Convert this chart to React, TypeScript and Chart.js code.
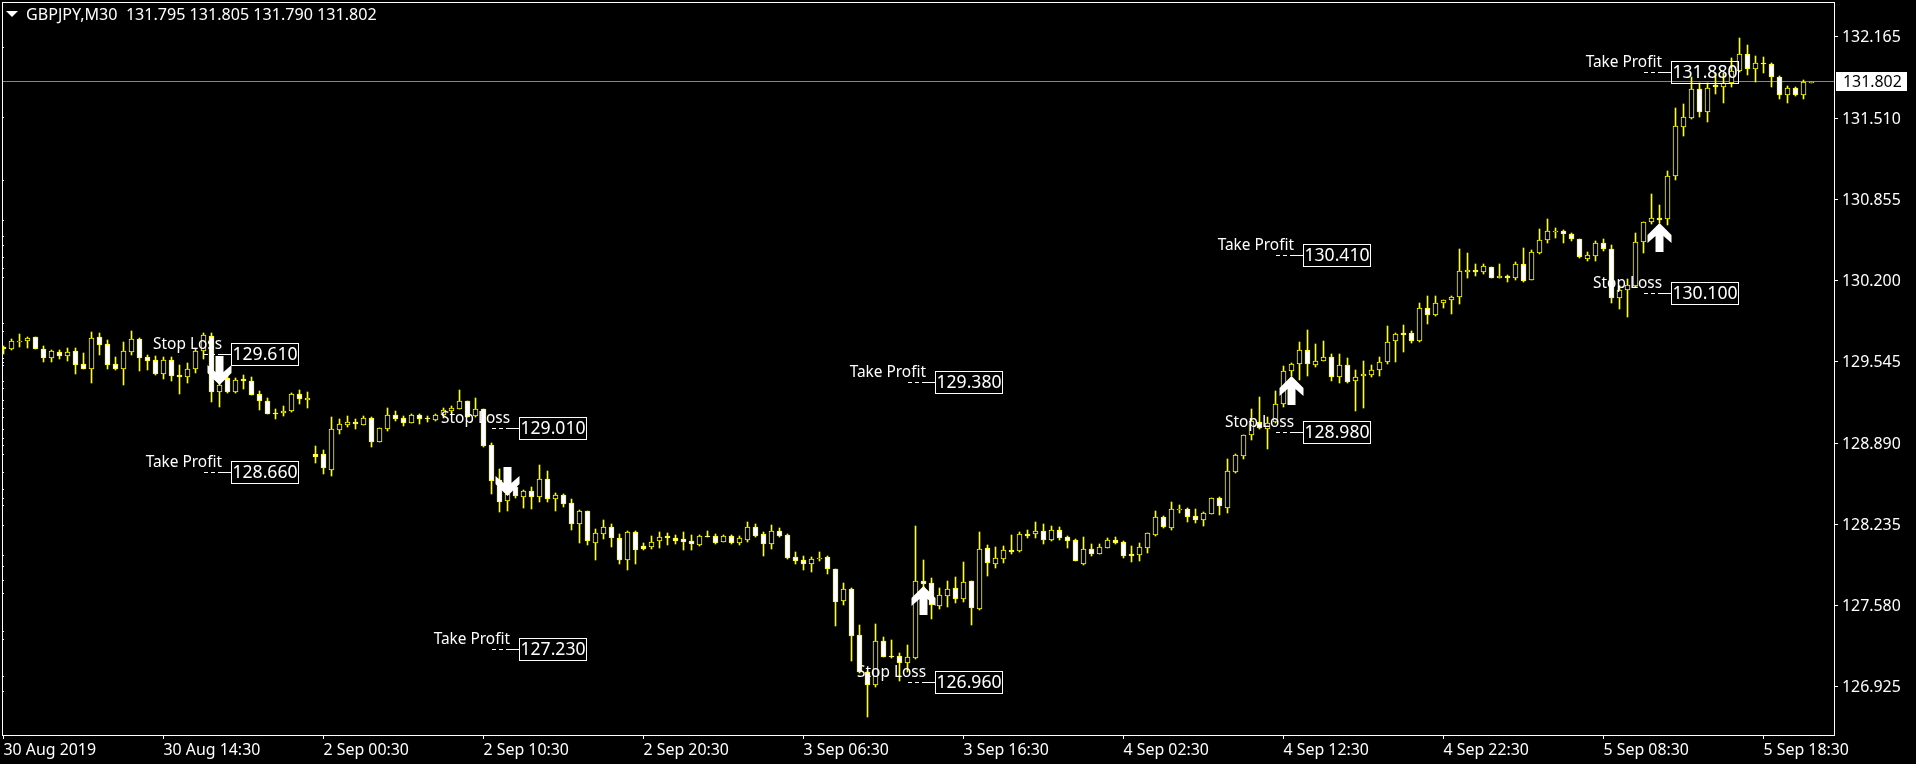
import React, { useEffect, useRef } from "react";
import { Chart, registerables } from "chart.js";

Chart.register(...registerables);

const opens = [
  129.667,129.650,129.702,129.710,129.742,129.650,129.578,129.621,129.594,129.630,
  129.525,129.489,129.742,129.686,129.525,129.489,129.626,129.726,129.581,129.559,
  129.446,129.559,129.436,129.425,129.484,129.630,129.753,129.304,129.412,129.304,
  129.403,129.388,129.283,129.227,129.134,129.132,129.151,129.283,129.237,128.799,
  128.799,128.675,128.998,129.038,129.057,129.038,129.089,128.901,129.006,129.114,
  129.089,129.054,129.114,129.092,129.078,129.114,129.151,129.167,129.227,129.110,
  129.162,128.872,128.592,128.425,128.538,128.458,128.501,128.458,128.598,128.441,
  128.469,128.404,128.239,128.343,128.087,128.160,128.211,128.122,127.950,128.171,
  128.058,128.055,128.103,128.141,128.127,128.114,128.098,128.068,128.138,128.138,
  128.095,128.138,128.087,128.111,128.211,128.155,128.079,128.179,128.147,127.969,
  127.945,127.913,127.953,127.969,127.872,127.618,127.716,127.340,127.044,126.941,
  127.291,127.170,127.170,127.119,127.159,127.775,127.759,127.578,127.659,127.719,
  127.634,127.775,127.554,128.042,127.918,127.958,128.026,128.022,128.155,128.155,
  128.179,128.111,128.187,128.130,128.106,127.918,128.034,127.998,128.047,128.106,
  128.090,127.993,127.990,128.047,128.151,128.291,128.207,128.356,128.356,128.299,
  128.272,128.321,128.445,128.369,128.659,128.788,128.952,129.057,129.001,129.057,
  129.203,129.469,129.525,129.642,129.519,129.554,129.586,129.420,129.522,129.388,
  129.428,129.441,129.481,129.546,129.715,129.775,129.775,129.715,129.977,129.925,
  130.017,130.041,130.066,130.267,130.283,130.272,130.308,130.219,130.235,130.219,
  130.332,130.203,130.425,130.525,130.595,130.598,130.574,130.533,130.378,130.401,
  130.501,130.453,130.057,130.122,130.159,130.509,130.670,130.702,130.694,131.041,
  131.437,131.514,131.743,131.557,131.775,131.759,131.791,131.888,132.025,131.904,
  131.953,131.945,131.840,131.695,131.751,131.695,131.795,
];

const closes = [
  129.646,129.710,129.715,129.739,129.650,129.578,129.630,129.594,129.626,129.522,
  129.489,129.734,129.683,129.522,129.489,129.630,129.726,129.578,129.554,129.446,
  129.559,129.433,129.425,129.484,129.630,129.759,129.304,129.358,129.304,129.395,
  129.392,129.280,129.227,129.127,129.127,129.151,129.283,129.243,129.250,128.780,
  128.691,129.000,129.041,129.057,129.046,129.089,128.901,129.009,129.114,129.086,
  129.054,129.114,129.081,129.081,129.114,129.154,129.170,129.227,129.102,129.162,
  128.869,128.586,128.417,128.477,128.463,128.501,128.458,128.598,128.441,128.469,
  128.399,128.239,128.343,128.098,128.163,128.211,128.127,127.950,128.171,128.030,
  128.038,128.095,128.135,128.127,128.103,128.095,128.079,128.138,128.135,128.087,
  128.138,128.087,128.122,128.211,128.143,128.079,128.179,128.143,127.966,127.942,
  127.913,127.953,127.966,127.872,127.610,127.716,127.336,127.046,126.941,127.291,
  127.167,127.165,127.119,127.162,127.775,127.755,127.586,127.662,127.710,127.634,
  127.767,127.562,128.034,127.926,127.961,128.026,128.014,128.155,128.141,128.179,
  128.111,128.187,128.127,128.103,127.942,128.034,127.998,128.050,128.106,128.087,
  127.982,127.982,128.050,128.163,128.291,128.215,128.356,128.358,128.296,128.272,
  128.324,128.445,128.380,128.662,128.791,128.952,129.065,129.009,129.049,129.203,
  129.469,129.527,129.642,129.530,129.554,129.586,129.420,129.522,129.385,129.425,
  129.449,129.481,129.546,129.707,129.767,129.764,129.715,129.977,129.925,130.017,
  130.046,130.066,130.275,130.283,130.267,130.316,130.219,130.235,130.219,130.332,
  130.194,130.429,130.525,130.598,130.598,130.574,130.533,130.388,130.404,130.501,
  130.453,130.057,130.127,130.167,130.509,130.670,130.702,130.691,131.041,131.444,
  131.517,131.743,131.557,131.751,131.759,131.791,131.888,132.025,131.904,131.953,
  131.945,131.840,131.695,131.751,131.695,131.799,131.802,
];

const highs = [
  129.672,129.726,129.767,129.745,129.747,129.672,129.642,129.640,129.656,129.656,
  129.616,129.785,129.780,129.721,129.586,129.705,129.793,129.734,129.602,129.592,
  129.586,129.586,129.519,129.533,129.646,129.775,129.775,129.398,129.438,129.412,
  129.436,129.425,129.312,129.250,129.164,129.186,129.291,129.318,129.299,128.866,
  128.834,129.097,129.081,129.108,129.081,129.108,129.100,129.009,129.172,129.146,
  129.106,129.122,129.122,129.108,129.122,129.172,129.186,129.317,129.229,129.251,
  129.167,128.888,128.681,128.552,128.560,128.509,128.533,128.711,128.663,128.485,
  128.477,128.437,128.351,128.343,128.197,128.270,128.238,128.157,128.179,128.179,
  128.082,128.138,128.171,128.163,128.149,128.171,128.147,128.151,128.179,128.153,
  128.149,128.147,128.138,128.251,128.235,128.171,128.230,128.203,128.155,128.009,
  127.977,127.969,128.009,127.977,127.872,127.759,127.719,127.423,127.052,127.428,
  127.323,127.299,127.194,127.261,128.221,127.945,127.799,127.719,127.777,127.809,
  127.929,127.775,128.171,128.066,128.050,128.058,128.149,128.171,128.187,128.251,
  128.235,128.221,128.211,128.138,128.114,128.130,128.074,128.076,128.122,128.130,
  128.098,128.058,128.082,128.163,128.342,128.302,128.413,128.391,128.366,128.356,
  128.334,128.445,128.453,128.759,128.802,128.952,129.165,129.259,129.098,129.310,
  129.509,129.535,129.702,129.799,129.686,129.710,129.605,129.605,129.573,129.477,
  129.549,129.517,129.581,129.831,129.775,129.840,129.791,130.017,130.074,130.074,
  130.046,130.074,130.453,130.420,130.332,130.332,130.308,130.332,130.243,130.348,
  130.461,130.445,130.614,130.695,130.622,130.608,130.582,130.533,130.428,130.517,
  130.533,130.487,130.157,130.211,130.582,130.670,130.899,130.810,131.082,131.590,
  131.624,131.840,131.791,131.791,131.874,131.874,131.993,132.154,132.098,132.009,
  132.001,131.953,131.848,131.767,131.759,131.816,131.805,
];

const lows = [
  129.605,129.640,129.662,129.654,129.648,129.546,129.543,129.567,129.551,129.446,
  129.487,129.376,129.600,129.487,129.479,129.358,129.600,129.471,129.479,129.441,
  129.406,129.390,129.285,129.374,129.457,129.567,129.223,129.181,129.296,129.296,
  129.325,129.278,129.154,129.124,129.086,129.110,129.143,129.207,129.175,128.731,
  128.643,128.627,128.965,129.022,129.006,129.038,128.861,128.901,128.990,129.065,
  129.030,129.049,129.046,129.057,129.070,129.092,129.130,129.162,129.098,129.098,
  128.861,128.479,128.337,128.345,128.450,128.367,128.358,128.417,128.415,128.345,
  128.377,128.189,128.086,128.066,127.950,128.119,128.055,127.915,127.869,127.917,
  128.024,128.038,128.047,128.071,128.079,128.030,128.030,128.063,128.133,128.079,
  128.090,128.079,128.071,128.095,128.135,127.982,128.036,128.130,127.958,127.917,
  127.869,127.853,127.942,127.837,127.417,127.584,127.135,127.036,126.683,126.925,
  127.162,127.157,126.974,127.044,127.151,127.705,127.473,127.554,127.568,127.602,
  127.610,127.425,127.546,127.821,127.885,127.926,127.998,128.014,128.127,128.127,
  128.079,128.103,128.111,128.047,127.937,127.910,127.979,127.996,128.047,128.076,
  127.966,127.934,127.942,128.006,128.143,128.207,128.191,128.326,128.256,128.248,
  128.224,128.321,128.312,128.328,128.646,128.764,128.917,129.001,128.845,129.052,
  129.183,129.431,129.398,129.431,129.505,129.549,129.393,129.377,129.377,129.151,
  129.175,129.425,129.433,129.530,129.546,129.624,129.699,129.707,129.852,129.917,
  129.982,129.933,130.014,130.223,130.240,130.253,130.219,130.219,130.191,130.203,
  130.191,130.203,130.412,130.506,130.546,130.506,130.517,130.380,130.362,130.361,
  130.436,130.022,129.973,129.909,130.151,130.425,130.654,130.665,130.646,131.011,
  131.366,131.506,131.517,131.482,131.708,131.630,131.764,131.880,131.858,131.804,
  131.872,131.764,131.667,131.635,131.687,131.662,131.790,
];

const priceTicks = [132.165, 131.51, 130.855, 130.2, 129.545, 128.89, 128.235, 127.58, 126.925];
const timeTickBars = [0, 20, 40, 60, 80, 100, 120, 140, 160, 180, 200, 220];
const timeTickLabels = [
  "30 Aug 2019", "30 Aug 14:30", "2 Sep 00:30", "2 Sep 10:30", "2 Sep 20:30", "3 Sep 06:30",
  "3 Sep 16:30", "4 Sep 02:30", "4 Sep 12:30", "4 Sep 22:30", "5 Sep 08:30", "5 Sep 18:30",
];

const headerText = "GBPJPY,M30  131.795 131.805 131.790 131.802";
const currentPrice = 131.802;

// level labels: anchor bar (left edge of the value box), price, caption
const levelBars = [28.4, 28.4, 64.4, 64.4, 116.4, 116.4, 162.4, 162.4, 208.4, 208.4];
const levelPrices = [129.61, 128.66, 129.01, 127.23, 126.96, 129.38, 130.41, 128.98, 131.88, 130.1];
const levelCaptions = [
  "Stop Loss", "Take Profit", "Stop Loss", "Take Profit", "Stop Loss",
  "Take Profit", "Take Profit", "Stop Loss", "Take Profit", "Stop Loss",
];

// trade arrows: bar index, price of the arrow tip, direction
const arrowBars = [27, 63, 115, 161, 207];
const arrowTips = [129.358, 128.466, 127.737, 129.433, 130.667];
const arrowDirections = [-1, -1, 1, 1, 1];

// small marks along the left frame
const frameMarks = [
  132.084, 131.519, 131.011, 130.689, 130.56, 130.487, 130.391, 130.302, 130.229, 129.858, 129.794,
  129.576, 129.544, 129.519, 129.39, 129.334, 129.237, 129.173, 129.1, 129.003, 128.931, 128.874,
  128.802, 128.656, 128.52, 128.447, 128.391, 128.229, 127.987, 127.898, 127.785, 127.681, 127.374,
  127.31, 127.012, 126.89,
];

const FONT = '"Noto Sans", sans-serif';
const WHITE = "#ffffff";
const YELLOW = "#ffff00";
const GREY = "#778899";

const snapBars = {
  id: "snapBars",
  afterDatasetsUpdate(chart: any) {
    chart.getSortedVisibleDatasetMetas().forEach((meta: any) => {
      meta.data.forEach((el: any) => {
        el.x = Math.floor(el.x) + 0.5;
        const a = Math.round(el.y);
        let b = Math.round(el.base);
        if (a === b) b = a + 1;
        el.y = a;
        el.base = b;
        el.height = Math.abs(b - a);
      });
    });
  },
};

const backdrop = {
  id: "backdrop",
  beforeDatasetsDraw(chart: any) {
    const { ctx, chartArea: a, scales } = chart;
    ctx.save();
    ctx.fillStyle = WHITE;
    ctx.fillRect(a.left, a.top, a.right - a.left + 1, 1);
    ctx.fillRect(a.left, a.top, 1, a.bottom - a.top + 1);
    ctx.fillRect(a.right, a.top, 1, a.bottom - a.top + 1);
    ctx.fillRect(a.left, a.bottom, a.right - a.left + 1, 1);
    frameMarks.forEach((p) => ctx.fillRect(a.left + 1, Math.round(scales.y.getPixelForValue(p)), 1, 1));
    ctx.fillStyle = GREY;
    ctx.fillRect(a.left + 1, Math.floor(scales.y.getPixelForValue(currentPrice)), a.right - a.left - 1, 1);
    ctx.restore();
  },
};

const overlay = {
  id: "overlay",
  afterDatasetsDraw(chart: any) {
    const { ctx, chartArea: a, scales } = chart;
    const x = scales.x;
    const y = scales.y;
    ctx.save();

    // arrows
    arrowBars.forEach((bar, k) => {
      const cx = Math.floor(x.getPixelForValue(bar)) + 0.5;
      const ty = Math.round(y.getPixelForValue(arrowTips[k]));
      const d = arrowDirections[k];
      const pts = [[0, 0], [12, 12], [12, 20], [4, 13], [4, 29], [-4, 29], [-4, 13], [-12, 20], [-12, 12]];
      ctx.fillStyle = WHITE;
      ctx.beginPath();
      pts.forEach(([dx, dy], n) => {
        const px = cx + dx;
        const py = ty + d * dy;
        if (n) ctx.lineTo(px, py);
        else ctx.moveTo(px, py);
      });
      ctx.closePath();
      ctx.fill();
    });

    // level labels
    levelPrices.forEach((price, k) => {
      const left = Math.round(x.getPixelForValue(levelBars[k]));
      const ly = Math.round(y.getPixelForValue(price));
      ctx.fillStyle = WHITE;
      ctx.fillRect(left - 9, ly, 9, 1);
      ctx.strokeStyle = WHITE;
      ctx.lineWidth = 1;
      ctx.setLineDash([4, 3]);
      ctx.beginPath();
      ctx.moveTo(left - 27, ly + 0.5);
      ctx.lineTo(left - 9, ly + 0.5);
      ctx.stroke();
      ctx.setLineDash([]);
      ctx.strokeRect(left + 0.5, ly - 10.5, 67, 22);
      ctx.fillStyle = WHITE;
      ctx.textBaseline = "middle";
      ctx.font = `17.6px ${FONT}`;
      ctx.textAlign = "center";
      ctx.fillText(price.toFixed(3), left + 34, ly + 1);
      ctx.font = `15.4px ${FONT}`;
      ctx.textAlign = "right";
      ctx.fillText(levelCaptions[k], left - 9, ly - 9);
    });

    // header
    ctx.fillStyle = WHITE;
    ctx.beginPath();
    ctx.moveTo(6, 11);
    ctx.lineTo(18, 11);
    ctx.lineTo(12, 17);
    ctx.closePath();
    ctx.fill();
    ctx.font = `16.1px ${FONT}`;
    ctx.textAlign = "left";
    ctx.textBaseline = "middle";
    ctx.fillText(headerText, 26, 15);

    // current price tag
    const cy = Math.floor(y.getPixelForValue(currentPrice));
    ctx.fillStyle = WHITE;
    ctx.fillRect(a.right + 2, cy - 9, 71, 19);
    ctx.fillStyle = "#000000";
    ctx.font = `15.9px ${FONT}`;
    ctx.fillText(currentPrice.toFixed(3), a.right + 9, cy + 1);
    ctx.restore();
  },
};

export default function App() {
  const ref = useRef<HTMLCanvasElement>(null);

  useEffect(() => {
    document.body.style.margin = "0";
    document.body.style.background = "#000";
    const chart = new Chart(ref.current as HTMLCanvasElement, {
      type: "bar",
      data: {
        datasets: [
          {
            label: "Body",
            order: 1,
            grouped: false,
            barThickness: 5,
            borderWidth: 1,
            borderSkipped: false,
            borderColor: YELLOW,
            backgroundColor: opens.map((o, i) => (closes[i] >= o ? "#000000" : WHITE)),
            data: opens.map((o, i) => ({ x: i, y: [Math.min(o, closes[i]), Math.max(o, closes[i])] })),
          },
          {
            label: "Wick",
            order: 2,
            grouped: false,
            barThickness: 1,
            borderWidth: 0,
            backgroundColor: YELLOW,
            data: highs.map((h, i) => ({ x: i, y: [lows[i], h] })),
          },
        ] as any,
      },
      options: {
        animation: false,
        responsive: false,
        devicePixelRatio: 1,
        parsing: { xAxisKey: "x", yAxisKey: "y" },
        layout: { autoPadding: false, padding: { left: 2, top: 2, right: 0, bottom: 0 } },
        plugins: { legend: { display: false }, tooltip: { enabled: false } },
        scales: {
          x: {
            type: "linear",
            offset: false,
            min: -0.1875,
            max: 228.8125,
            afterFit: (s: any) => {
              s.height = 29;
              s.paddingLeft = 0;
              s.paddingRight = 0;
            },
            afterBuildTicks: (s: any) => {
              s.ticks = timeTickBars.map((value) => ({ value }));
            },
            border: { display: false },
            grid: { drawOnChartArea: false, color: WHITE, tickLength: 4, offset: false },
            ticks: {
              color: WHITE,
              font: { family: "Noto Sans", size: 15.9 },
              align: "start",
              maxRotation: 0,
              autoSkip: false,
              padding: 2,
              callback: (v: any) => timeTickLabels[timeTickBars.indexOf(v)] ?? "",
            },
          },
          y: {
            type: "linear",
            position: "right",
            min: 126.5356,
            max: 132.4469,
            afterFit: (s: any) => {
              s.width = 82;
              s.paddingTop = 0;
              s.paddingBottom = 0;
            },
            afterBuildTicks: (s: any) => {
              s.ticks = priceTicks.map((value) => ({ value }));
            },
            border: { display: false },
            grid: { drawOnChartArea: false, color: WHITE, tickLength: 4 },
            ticks: {
              color: WHITE,
              font: { family: "Noto Sans", size: 15.9 },
              padding: 4,
              autoSkip: false,
              labelOffset: 1,
              callback: (v: any) => Number(v).toFixed(3),
            },
          },
        },
      } as any,
      plugins: [snapBars, backdrop, overlay],
    });
    return () => chart.destroy();
  }, []);

  return (
    <canvas
      ref={ref}
      width={1916}
      height={764}
      style={{ display: "block", width: 1916, height: 764, background: "#000" }}
    />
  );
}
